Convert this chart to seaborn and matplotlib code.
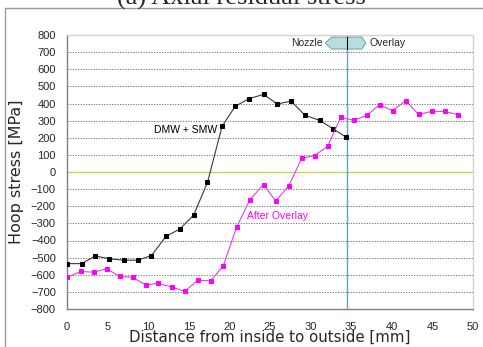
import numpy as np
import pandas as pd
import matplotlib
matplotlib.use('Agg')
import matplotlib.pyplot as plt
import matplotlib.patches as mpatches
import matplotlib.lines as mlines
import seaborn as sns

# DMW + SMW (before overlay)
dmw_x = [0, 1.8, 3.5, 5.2, 7.0, 8.7, 10.4, 12.2, 13.9, 15.6, 17.3, 19.1, 20.7,
         22.4, 24.2, 25.9, 27.6, 29.3, 31.1, 32.8, 34.4]
dmw_y = [-535, -535, -490, -507, -515, -515, -488, -375, -333, -251, -61, 267, 383,
         428, 453, 397, 414, 331, 302, 251, 203]

# After overlay
ovl_x = [0, 1.7, 3.3, 4.9, 6.5, 8.1, 9.7, 11.2, 12.9, 14.5, 16.1, 17.7, 19.25, 20.9,
         22.5, 24.2, 25.7, 27.3, 28.9, 30.5, 32.1, 33.7, 35.3, 36.9, 38.5, 40.1, 41.7,
         43.3, 44.9, 46.5, 48.15]
ovl_y = [-614, -581, -585, -565, -610, -615, -660, -650, -672, -697, -633, -635, -548,
         -321, -164, -73, -170, -82, 80, 96, 150, 319, 302, 330, 393, 358, 416, 336,
         354, 354, 335]

interface_x = 34.5
x_ticks = list(range(0, 51, 5))
y_ticks = list(range(-800, 801, 100))

sns.set_style('white')
plt.rcParams['font.family'] = ['Liberation Sans', 'DejaVu Sans']

fig = plt.figure(figsize=(4.83, 3.47), dpi=100)
ax = fig.add_axes([67 / 483, 1 - 309 / 347, 406 / 483, 274 / 347])

df_dmw = pd.DataFrame({'x': dmw_x, 'y': dmw_y})
df_ovl = pd.DataFrame({'x': ovl_x, 'y': ovl_y})

for yv in y_ticks[1:-1]:
    if yv != 0:
        ax.axhline(yv, color='#707070', linestyle=(0, (1.2, 1.5)), linewidth=0.7, zorder=0)
ax.axhline(0, color='#c8d25a', linewidth=1.0, zorder=0)
ax.axvline(interface_x, color='#5aa5d2', linewidth=1.0, zorder=1)

sns.lineplot(data=df_dmw, x='x', y='y', ax=ax, color='#3a3a3a', linewidth=0.8,
             marker='s', markersize=3.2, markerfacecolor='black',
             markeredgecolor='black', zorder=3)
sns.lineplot(data=df_ovl, x='x', y='y', ax=ax, color='#e23fe2', linewidth=0.8,
             marker='s', markersize=3.2, markerfacecolor='#ff00ff',
             markeredgecolor='#ff00ff', zorder=3)

ax.set_xlim(0, 50)
ax.set_ylim(-800, 800)
ax.set_xticks(x_ticks)
ax.set_yticks(y_ticks)
ax.tick_params(axis='x', direction='in', length=3, color='#808080', labelsize=8, pad=9)
ax.tick_params(axis='y', direction='out', length=0, labelsize=8, pad=8)
for s in ['left', 'bottom']:
    ax.spines[s].set_color('#808080')
    ax.spines[s].set_linewidth(1.0)
for s in ['top', 'right']:
    ax.spines[s].set_color('#d4d4d4')
    ax.spines[s].set_linewidth(1.0)

ax.set_xlabel('Distance from inside to outside [mm]', fontsize=10.8,
              family=['DejaVu Sans'], labelpad=-1)
ax.set_ylabel('Hoop stress [MPa]', fontsize=11.5, family=['DejaVu Sans'], labelpad=5)

# series labels
ax.text(18.5, 247, 'DMW + SMW', ha='right', va='center', fontsize=7.5, color='black')
ax.text(22.2, -257, 'After Overlay', ha='left', va='center', fontsize=7.5, color='#ff00ff')

# Nozzle / Overlay marker
cy, hh = 753, 35
hexa = mpatches.Polygon([(interface_x - 2.7, cy), (interface_x - 1.9, cy + hh),
                         (interface_x + 1.8, cy + hh), (interface_x + 2.3, cy),
                         (interface_x + 1.8, cy - hh), (interface_x - 1.9, cy - hh)],
                        closed=True, facecolor='#b7dde0', edgecolor='#7a9a9c',
                        linewidth=0.7, zorder=4)
ax.add_patch(hexa)
ax.plot([interface_x, interface_x], [cy - hh, cy + hh], color='black', linewidth=0.8, zorder=5)
ax.text(interface_x - 3.0, cy, 'Nozzle', ha='right', va='center', fontsize=7.5)
ax.text(interface_x + 2.7, cy, 'Overlay', ha='left', va='center', fontsize=7.5)

# title (cut off at top, as in the source) and outer chart frame
fig.text(0.5, 1 - 5 / 347, '(a) Axial residual stress', ha='center', va='baseline',
         fontsize=19, family=['Liberation Serif'])
fig.add_artist(mlines.Line2D([5 / 483, 5 / 483], [0, 1 - 8 / 347], color='#9a9a9a', linewidth=1.0))
fig.add_artist(mlines.Line2D([5 / 483, 1], [1 - 8 / 347, 1 - 8 / 347], color='#9a9a9a', linewidth=1.0))

fig.savefig('out.png', dpi=100)
plt.close(fig)
